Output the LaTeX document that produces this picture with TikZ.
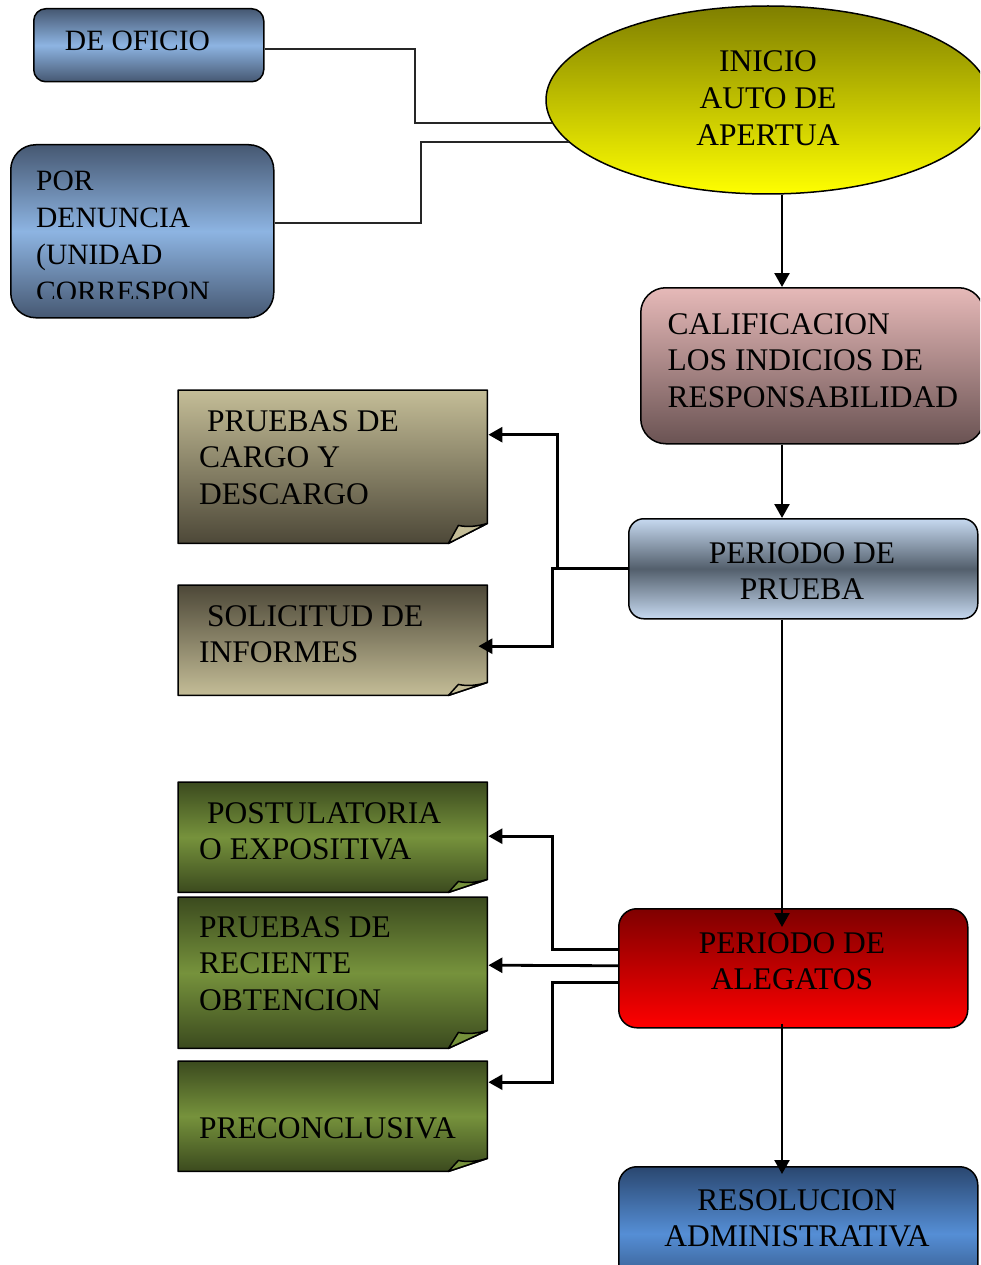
\documentclass[tikz,border=0pt]{standalone}
\usepackage{fontspec}
\setmainfont{Liberation Serif}
\usetikzlibrary{arrows.meta,calc,shapes.geometric}

\definecolor{bluedark}{HTML}{465872}
\definecolor{bluelight}{HTML}{8DB4E2}
\definecolor{olivetop}{HTML}{7F7F00}
\definecolor{yellowbot}{HTML}{FFFF00}
\definecolor{caltop}{HTML}{E6B9B8}
\definecolor{calbot}{HTML}{6A5353}
\definecolor{prulight}{HTML}{C6D9F0}
\definecolor{prudark}{HTML}{535F6C}
\definecolor{tanlight}{HTML}{C4BD97}
\definecolor{tandark}{HTML}{4D4838}
\definecolor{greendark}{HTML}{3B4A1E}
\definecolor{greenlight}{HTML}{76923C}
\definecolor{aletop}{HTML}{7F0000}
\definecolor{alebot}{HTML}{FF0000}
\definecolor{resdark}{HTML}{2A4770}
\definecolor{reslight}{HTML}{558ED5}

\newcommand{\txtblock}[2]{\begin{tabular}[t]{@{}#1@{}}#2\end{tabular}}
% #1 node, #2 shading options, #3 fold fill, #4 chamfer height
\newcommand{\drawnote}[4]{%
  \path[draw=black,line width=1.5pt,line join=round,#2] (#1.north west) -- (#1.north east)
    -- ($(#1.south east)+(0,-#4)$) -- ($(#1.south east)+(-39,0)$)
    -- (#1.south west) -- cycle;
  \path[draw=black,line width=1.5pt,line join=round,fill=#3] ($(#1.south east)+(-39,0)$)
    -- ($(#1.south east)+(-29,-#4+2)$)
    .. controls ($(#1.south east)+(-20,-#4+4)$) and ($(#1.south east)+(-10,-#4+3)$) .. ($(#1.south east)+(0,-#4)$)
    -- cycle;}

\begin{document}
\begin{tikzpicture}[x=1pt,y=-1pt,
  txt/.style={inner sep=0pt,font=\fontsize{31.5}{36.8}\selectfont},
  txtsmall/.style={inner sep=0pt,font=\fontsize{29.5}{36.8}\selectfont},
  box/.style={draw=black,line width=1.5pt,inner sep=0pt,anchor=north west},
  notebox/.style={draw=none,inner sep=0pt,anchor=north west,minimum width=309pt},
  conn/.style={line width=2pt,draw=black!85},
  arr/.style={line width=2.4pt,draw=black,-{Triangle[length=14pt,width=15pt]}},
  sidearr/.style={line width=2.8pt,draw=black,-{Triangle[length=14pt,width=15pt]}},
]
\clip (0,0) rectangle (980,1265);
\fill[white] (0,0) rectangle (980,1265);

% ---------- main boxes ----------
\node[box,rounded corners=12pt,minimum width=230pt,minimum height=73pt,
  top color=bluedark,bottom color=bluedark,middle color=bluelight] (ofi) at (33,8) {};
\node[box,rounded corners=25pt,minimum width=263pt,minimum height=173pt,
  top color=bluedark,bottom color=bluedark,middle color=bluelight] (den) at (10,144) {};
\node[ellipse,draw=black,line width=1.5pt,inner sep=0pt,minimum width=444pt,minimum height=188pt,
  top color=olivetop,bottom color=yellowbot] (ini) at (768,100) {};
\node[box,rounded corners=25pt,minimum width=343pt,minimum height=156pt,
  top color=caltop,bottom color=calbot] (cal) at (640,287) {};
\node[box,rounded corners=15pt,minimum width=349pt,minimum height=100pt,
  top color=prulight,bottom color=prulight,middle color=prudark] (pru) at (628,518) {};
\node[box,rounded corners=18pt,minimum width=349pt,minimum height=119pt,
  top color=aletop,bottom color=alebot] (ale) at (618,908) {};
\node[box,rounded corners=18pt,minimum width=359pt,minimum height=134pt,
  top color=resdark,bottom color=resdark,middle color=reslight] (res) at (618,1166) {};

% ---------- notes ----------
\node[notebox,minimum height=153pt] (cargo) at (178,390) {};
\node[notebox,minimum height=110pt] (sol) at (178,585) {};
\node[notebox,minimum height=110pt] (pos) at (178,782) {};
\node[notebox,minimum height=151pt] (rec) at (178,897) {};
\node[notebox,minimum height=110pt] (pre) at (178,1061) {};
\drawnote{cargo}{top color=tanlight,bottom color=tandark}{tanlight}{20}
\drawnote{sol}{top color=tandark,bottom color=tanlight}{tanlight}{13}
\drawnote{pos}{top color=greendark,bottom color=greendark,middle color=greenlight}{greenlight}{13}
\drawnote{rec}{top color=greendark,bottom color=greendark,middle color=greenlight}{greenlight}{18}
\drawnote{pre}{top color=greendark,bottom color=greendark,middle color=greenlight}{greenlight}{13}

% ---------- texts ----------
\node[txtsmall,anchor=base] (tofi) at (137.5,51) {DE OFICIO};
\begin{scope}
\clip (10,144) rectangle (273,298);
\node[txtsmall,anchor=base west] (tden) at (36,191) {\txtblock{l}{POR\\DENUNCIA\\(UNIDAD\\CORRESPON}};
\end{scope}
\node[txt,anchor=base] (tini) at (768,72) {\txtblock{c}{INICIO\\AUTO DE\\APERTUA}};
\node[txt,anchor=base west] (tcal) at (667.5,334) {\txtblock{l}{CALIFICACION\\LOS INDICIOS DE\\RESPONSABILIDAD}};
\node[txt,anchor=base] (tpru) at (802,563) {\txtblock{c}{PERIODO DE\\PRUEBA}};
\node[txt,anchor=base] (tale) at (792,953) {\txtblock{c}{PERIODO DE\\ALEGATOS}};
\node[txt,anchor=base] (tres) at (797,1210) {\txtblock{c}{RESOLUCION\\ADMINISTRATIVA}};
\node[txt,anchor=base west] (tcargo) at (199,431) {\txtblock{l}{\hspace*{8pt}PRUEBAS DE\\CARGO Y\\DESCARGO}};
\node[txt,anchor=base west] (tsol) at (199,626) {\txtblock{l}{\hspace*{8pt}SOLICITUD DE\\INFORMES}};
\node[txt,anchor=base west] (tpos) at (199,823) {\txtblock{l}{\hspace*{8pt}POSTULATORIA\\O EXPOSITIVA}};
\node[txt,anchor=base west] (trec) at (199,937) {\txtblock{l}{PRUEBAS DE\\RECIENTE\\OBTENCION}};
\node[txt,anchor=base west] (tpre) at (199,1138) {PRECONCLUSIVA};

% ---------- connectors ----------
\draw[conn] ($(ofi.east)+(0,3.5)$) -| ($(ini.186.4)+(-137,0)$) -- (ini.186.4);
\draw[conn] ($(den.east)+(0,-8)$) -| ($(ini.192.3)+(-148,0)$) -- (ini.192.3);
\draw[arr] ($(ini.south)+(14,0)$) -- ($(cal.north west)+(142,0)$);
\draw[arr] ($(cal.south west)+(142,0)$) -- ($(pru.north west)+(154,0)$);
\draw[sidearr] (pru.west) -| ($(cargo.east)+(70,-32)$) -- ($(cargo.east)+(1,-32)$);
\draw[sidearr] (pru.west) -| ($(sol.east)+(65,6)$) -- ($(sol.east)+(-9,6)$);
\draw[arr] ($(pru.south west)+(154,0)$) -- ($(ale.north west)+(164,19)$);
\draw[sidearr] ($(ale.west)+(0,-18.5)$) -| ($(pos.east)+(65,-1)$) -- ($(pos.east)+(1,-1)$);
\draw[sidearr] ($(ale.west)+(0,-2.5)$) -- ($(rec.east)+(1,-7.5)$);
\draw[sidearr] ($(ale.west)+(0,14.5)$) -| ($(pre.east)+(65,-34)$) -- ($(pre.east)+(1,-34)$);
\draw[arr] ($(ale.south west)+(164,-5)$) -- ($(res.north west)+(164,8)$);
\end{tikzpicture}
\end{document}
